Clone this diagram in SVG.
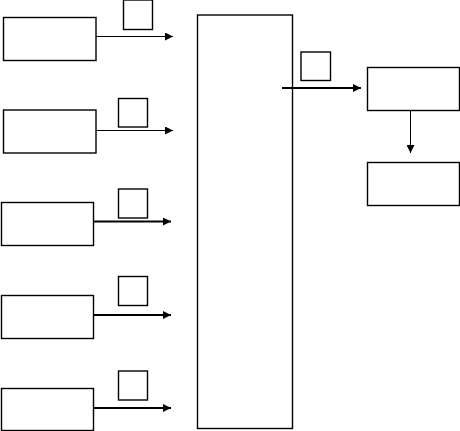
<svg xmlns="http://www.w3.org/2000/svg" width="460" height="431" viewBox="0 0 460 431">
<defs>
<style>
.b{fill:#fff;stroke:#000;stroke-width:1.4}
.c{fill:none;stroke:#000}
.t{stroke-width:1}
.k{stroke-width:2.2}
</style>
<marker id="ah" viewBox="0 0 8 8" refX="8" refY="4" markerWidth="8" markerHeight="8" markerUnits="userSpaceOnUse" orient="auto">
<path d="M0,0 L8,4 L0,8 Z" fill="#000"/>
</marker>
</defs>
<rect width="460" height="431" fill="#fff"/>
<g id="n1"><rect class="b" x="3.5" y="17.5" width="92.5" height="43"/></g>
<g id="s1"><rect class="b" x="123.5" y="0" width="29" height="29.5"/></g>
<g id="n2"><rect class="b" x="3.5" y="110" width="92.5" height="43"/></g>
<g id="s2"><rect class="b" x="118.5" y="98.5" width="29" height="28.5"/></g>
<g id="n3"><rect class="b" x="1.5" y="202.5" width="92" height="43"/></g>
<g id="s3"><rect class="b" x="118.5" y="189" width="29" height="29"/></g>
<g id="n4"><rect class="b" x="1.5" y="295.5" width="92" height="43"/></g>
<g id="s4"><rect class="b" x="118.5" y="276.5" width="29" height="29"/></g>
<g id="n5"><rect class="b" x="1.5" y="388.5" width="92" height="42"/></g>
<g id="s5"><rect class="b" x="118.5" y="371" width="29" height="29"/></g>
<g id="main"><rect class="b" x="197.5" y="15" width="95" height="413.5"/></g>
<g id="s6"><rect class="b" x="301" y="52" width="29.5" height="28.5"/></g>
<g id="r1"><rect class="b" x="367.5" y="67.5" width="92" height="43"/></g>
<g id="r2"><rect class="b" x="367.5" y="162.5" width="92" height="43"/></g>
<g id="connectors">
<line class="c t" x1="96" y1="36.5" x2="173" y2="36.5" marker-end="url(#ah)"/>
<line class="c t" x1="96" y1="130.5" x2="173" y2="130.5" marker-end="url(#ah)"/>
<line class="c k" x1="93" y1="221.5" x2="171" y2="221.5" marker-end="url(#ah)"/>
<line class="c k" x1="93" y1="315" x2="171" y2="315" marker-end="url(#ah)"/>
<line class="c k" x1="93" y1="408" x2="171" y2="408" marker-end="url(#ah)"/>
<line class="c k" x1="282" y1="88" x2="361" y2="88" marker-end="url(#ah)"/>
<line class="c t" x1="410.5" y1="110.5" x2="410.5" y2="153" marker-end="url(#ah)"/>
</g>
</svg>
